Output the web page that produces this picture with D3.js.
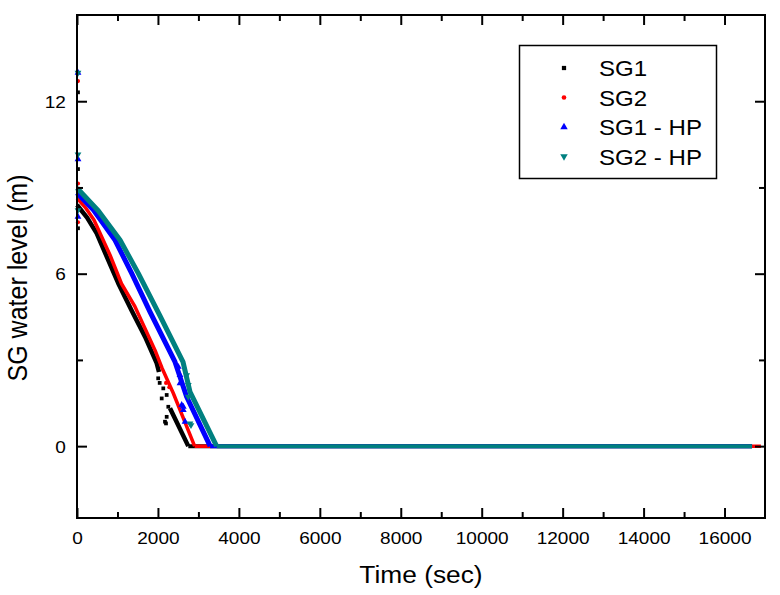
<!DOCTYPE html>
<html>
<head>
<meta charset="utf-8">
<script src="https://cdn.jsdelivr.net/npm/d3@7"></script>
<style>
  html, body { margin: 0; padding: 0; background: #fff; }
  svg { display: block; font-family: "Liberation Sans", Arial, sans-serif; }
</style>
</head>
<body>
<svg id="chart" width="780" height="595"></svg>
<script>
// ---------------- data ----------------
const seriesNames = ["SG1", "SG2", "SG1 - HP", "SG2 - HP"];
const seriesColors = ["#000000", "#ff0000", "#0000ff", "#008080"];

const xTickValues = [0, 2000, 4000, 6000, 8000, 10000, 12000, 14000, 16000];
const xMinorValues = [1000, 3000, 5000, 7000, 9000, 11000, 13000, 15000];
const yTickValues = [0, 6, 12];
const yMinorValues = [3, 9];

// main traces (null level = gap); the last two points are the zero plateau
const sg1Time  = [0, 250, 487, 1021, 1350, 1680, 1969, 2026, 2150, 2298, 2750, 16680];
const sg1Level = [8.39, 7.95, 7.40, 5.66, 4.72, 3.81, 2.89, 2.58, null, 1.32, 0, 0];
const sg2Time  = [0, 220, 420, 815, 1100, 1433, 1927, 2100, 2380, 2906, 16900];
const sg2Level = [8.63, 8.28, 7.87, 6.65, 5.65, 4.85, 3.34, 2.72, 1.84, 0, 0];
const sg1hpTime  = [0, 403, 939, 1352, 1804, 2422, 2709, 3290, 16680];
const sg1hpLevel = [8.81, 8.22, 7.17, 6.01, 4.67, 2.93, 1.72, 0, 0];
const sg2hpTime  = [0, 526, 1063, 1515, 2051, 2619, 2792, 3450, 16680];
const sg2hpLevel = [8.98, 8.19, 7.17, 6.01, 4.53, 2.93, 1.89, 0, 0];

// scattered points (incl. initial transient values at t = 0)
const sg1ScatterTime  = [2006, 2043, 2093, 2132, 2174, 2199, 2216, 2256, 2216, 0, 0, 0];
const sg1ScatterLevel = [2.36, 2.20, 1.66, 2.01, 0.85, 0.79, 1.02, 1.37, 1.78, 12.31, 9.64, 7.58];
const sg2ScatterTime  = [2200, 2280, 0, 0, 0];
const sg2ScatterLevel = [2.20, 2.05, 12.70, 9.14, 7.79];
const sg1hpScatterTime  = [2503, 2545, 2545, 2587, 2627, 2669, 2627, 0, 0, 0];
const sg1hpScatterLevel = [2.76, 2.47, 2.19, 1.43, 1.26, 0.85, 1.37, 12.99, 9.98, 7.98];
const sg2hpScatterTime  = [2710, 2750, 2750, 2792, 2817, 0, 0, 0];
const sg2hpScatterLevel = [2.47, 2.13, 1.72, 0.79, 0.73, 12.99, 10.15, 8.21];

const traces = [
  { name: seriesNames[0], color: seriesColors[0], t: sg1Time, v: sg1Level, st: sg1ScatterTime, sv: sg1ScatterLevel, sym: "square", width: 4.5 },
  { name: seriesNames[1], color: seriesColors[1], t: sg2Time, v: sg2Level, st: sg2ScatterTime, sv: sg2ScatterLevel, sym: "circle", width: 3.5 },
  { name: seriesNames[2], color: seriesColors[2], t: sg1hpTime, v: sg1hpLevel, st: sg1hpScatterTime, sv: sg1hpScatterLevel, sym: "up", width: 5 },
  { name: seriesNames[3], color: seriesColors[3], t: sg2hpTime, v: sg2hpLevel, st: sg2hpScatterTime, sv: sg2hpScatterLevel, sym: "down", width: 5 }
];

// ---------------- layout ----------------
const svg = d3.select("#chart");
const L = 77, R = 765, T = 15, B = 518;
const SX = 1.12; // horizontal glyph stretch of the original

const x = d3.scaleLinear().domain([0, 17000]).range([L, R]);
const y = d3.scaleLinear().domain([-2.5, 15]).range([B, T]);

function symbolPath(kind, size) {
  if (kind === "square") return d3.symbol(d3.symbolSquare, size)();
  if (kind === "circle") return d3.symbol(d3.symbolCircle, size)();
  return d3.symbol(d3.symbolTriangle, size)();
}
function symbolTransform(kind, px, py) {
  return kind === "down" ? `translate(${px},${py}) rotate(180)` : `translate(${px},${py})`;
}
const symSize = { square: 14, circle: 13, up: 20, down: 20 };

// ---------------- series ----------------
const plot = svg.append("g");
traces.forEach(tr => {
  const pts = tr.t.map((t, i) => [t, tr.v[i]]);
  const n = pts.length;
  const decline = pts.slice(0, n - 1);   // falling part, ends at the zero point
  const plateau = pts.slice(n - 2);      // flat zero part
  const line = d3.line().defined(d => d[1] !== null).x(d => x(d[0])).y(d => y(d[1]));
  plot.append("path")
    .attr("d", line(plateau))
    .attr("fill", "none").attr("stroke", tr.color)
    .attr("stroke-width", tr.width === 3.5 ? 3.5 : 4);
  plot.append("path")
    .attr("d", line(decline))
    .attr("fill", "none").attr("stroke", tr.color)
    .attr("stroke-width", tr.width)
    .attr("stroke-linejoin", "round");
  const scat = tr.st.map((t, i) => [t, tr.sv[i]]);
  plot.selectAll(null).data(scat).enter().append("path")
    .attr("d", symbolPath(tr.sym, symSize[tr.sym]))
    .attr("transform", d => symbolTransform(tr.sym, x(d[0]) + (d[0] === 0 ? 1 : 0), y(d[1])))
    .attr("fill", tr.color);
});

// ---------------- axes ----------------
function styleAxis(g) {
  g.select(".domain").remove();
  g.selectAll(".tick line").attr("stroke", "#000").attr("stroke-width", 2);
  g.selectAll(".tick text")
    .attr("font-size", 17)
    .attr("fill", "#000")
    .attr("font-family", "'Liberation Sans', Arial, sans-serif");
}

// bottom
svg.append("g").attr("transform", `translate(0,${B})`)
  .call(d3.axisBottom(x).tickValues(xTickValues).tickSize(-10).tickPadding(26).tickFormat(d3.format("d")))
  .call(styleAxis)
  .call(g => g.selectAll(".tick text").attr("dy", 0).attr("y", 26).attr("transform", `scale(${SX},1)`));
svg.append("g").attr("transform", `translate(0,${B})`)
  .call(d3.axisBottom(x).tickValues(xMinorValues).tickSize(-6).tickFormat(""))
  .call(styleAxis);
// top
svg.append("g").attr("transform", `translate(0,${T})`)
  .call(d3.axisTop(x).tickValues(xTickValues).tickSize(-10).tickFormat(""))
  .call(styleAxis);
svg.append("g").attr("transform", `translate(0,${T})`)
  .call(d3.axisTop(x).tickValues(xMinorValues).tickSize(-6).tickFormat(""))
  .call(styleAxis);
// left
svg.append("g").attr("transform", `translate(${L},0)`)
  .call(d3.axisLeft(y).tickValues(yTickValues).tickSize(-10).tickPadding(10).tickFormat(d3.format("d")))
  .call(styleAxis)
  .call(g => g.selectAll(".tick text").attr("dy", "0.36em").attr("transform", `scale(${SX},1)`));
svg.append("g").attr("transform", `translate(${L},0)`)
  .call(d3.axisLeft(y).tickValues(yMinorValues).tickSize(-6).tickFormat(""))
  .call(styleAxis);
// right
svg.append("g").attr("transform", `translate(${R},0)`)
  .call(d3.axisRight(y).tickValues(yTickValues).tickSize(-10).tickFormat(""))
  .call(styleAxis);
svg.append("g").attr("transform", `translate(${R},0)`)
  .call(d3.axisRight(y).tickValues(yMinorValues).tickSize(-6).tickFormat(""))
  .call(styleAxis);

// frame
svg.append("rect")
  .attr("x", L).attr("y", T).attr("width", R - L).attr("height", B - T)
  .attr("fill", "none").attr("stroke", "#000").attr("stroke-width", 2);

// axis titles
svg.append("text")
  .attr("transform", `translate(421,583) scale(${SX},1)`)
  .attr("text-anchor", "middle")
  .attr("font-size", 23.5)
  .text("Time (sec)");
svg.append("text")
  .attr("transform", `translate(27,278) scale(${SX},1) rotate(-90)`)
  .attr("text-anchor", "middle")
  .attr("font-size", 25)
  .text("SG water level (m)");

// ---------------- legend ----------------
const leg = svg.append("g");
leg.append("rect")
  .attr("x", 519.5).attr("y", 45.5).attr("width", 197).attr("height", 133)
  .attr("fill", "#fff").attr("stroke", "#000").attr("stroke-width", 1.5);
const legBase = [76, 105.5, 135, 164.5];
traces.forEach((tr, i) => {
  leg.append("path")
    .attr("d", symbolPath(tr.sym, symSize[tr.sym] + 4))
    .attr("transform", symbolTransform(tr.sym, 564, legBase[i] - 8))
    .attr("fill", tr.color);
  leg.append("text")
    .attr("transform", `translate(599,${legBase[i]}) scale(${SX},1)`)
    .attr("font-size", 21.5)
    .text(tr.name);
});
</script>
</body>
</html>
